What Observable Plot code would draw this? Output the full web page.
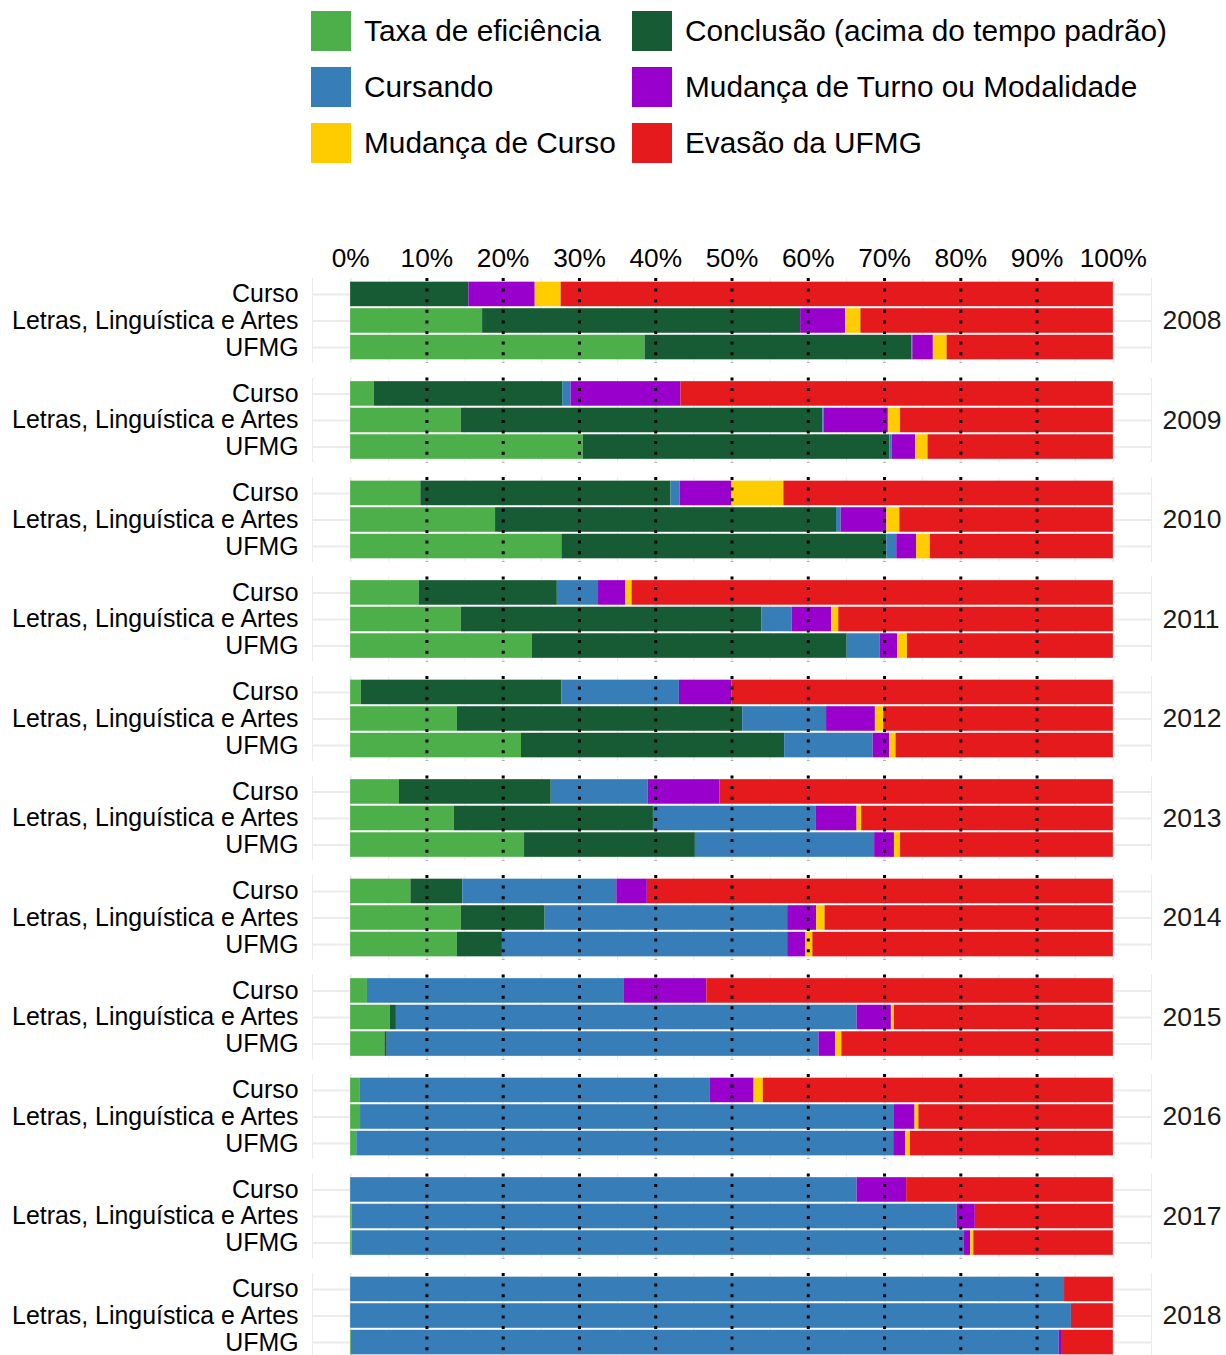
<!DOCTYPE html>
<html><head><meta charset="utf-8">
<script src="https://cdn.jsdelivr.net/npm/d3@7"></script>
<script src="https://cdn.jsdelivr.net/npm/@observablehq/plot@0.6"></script>
<style>
body{margin:0;background:#fff;font-family:"Liberation Sans",Arial,sans-serif;}
#legend{position:absolute;left:311px;top:11px;display:grid;grid-template-columns:321px auto;row-gap:16px;}
.item{display:flex;align-items:center;height:40px;font-size:29.8px;color:#000;white-space:nowrap;}
.sw{width:40px;height:40px;margin-right:13px;flex:none;}
#chart{position:absolute;left:0;top:200px;}
</style></head><body>
<div id="legend"></div><div id="chart"></div>
<script>
const years = [2008, 2009, 2010, 2011, 2012, 2013, 2014, 2015, 2016, 2017, 2018];
const levels = ["Curso", "Letras, Linguística e Artes", "UFMG"];
const categories = ["Taxa de eficiência", "Conclusão (acima do tempo padrão)", "Cursando",
  "Mudança de Turno ou Modalidade", "Mudança de Curso", "Evasão da UFMG"];
const colors = ["#4daf4a", "#165b33", "#377eb8", "#9900cc", "#ffcc00", "#e41a1c"];
const xTicks = [0, 10, 20, 30, 40, 50, 60, 70, 80, 90, 100];

// values per year: [Curso, Letras, UFMG]
const eficiencia = [[0,17.3,38.6],[3.1,14.5,30.5],[9.2,19.0,27.7],[9.0,14.5,23.8],[1.4,14.0,22.4],[6.4,13.6,22.8],[7.9,14.5,14.0],[2.2,5.2,4.5],[1.2,1.3,0.8],[0,0.2,0.2],[0,0,0.1]];
const conclusao = [[15.5,41.7,35.0],[24.7,47.4,40.2],[32.8,44.7,42.6],[18.1,39.4,41.3],[26.3,37.4,34.5],[19.9,26.1,22.4],[6.8,11.0,5.9],[0,0.8,0.3],[0,0,0],[0,0,0],[0,0,0]];
const cursando = [[0,0,0.1],[1.1,0.2,0.3],[1.2,0.6,1.3],[5.4,4.0,4.3],[15.4,11.0,11.6],[12.7,21.3,23.5],[20.2,31.8,37.4],[33.7,60.4,56.6],[45.9,70.0,70.4],[66.4,79.3,80.2],[93.6,94.5,92.8]];
const turno = [[8.7,5.9,2.7],[14.4,8.4,3.1],[6.8,6.0,2.6],[3.6,5.2,2.3],[6.9,6.4,2.2],[9.4,5.4,2.6],[4.0,3.8,2.4],[10.8,4.5,2.2],[5.8,2.7,1.6],[6.5,2.4,0.9],[0,0,0.3]];
const mudancaCurso = [[3.4,2.0,1.8],[0,1.6,1.6],[6.8,1.7,1.8],[0.8,0.9,1.3],[0,1.1,0.8],[0,0.6,0.8],[0,1.1,0.9],[0,0.4,0.8],[1.2,0.5,0.6],[0,0,0.4],[0,0,0]];
const evasao = [[72.4,33.1,21.8],[56.7,27.9,24.3],[43.2,28.0,24.0],[63.1,36.0,27.0],[50.0,30.1,28.5],[51.6,33.0,27.9],[61.1,37.8,39.4],[53.3,28.7,35.6],[45.9,25.5,26.6],[27.1,18.1,18.3],[6.4,5.5,6.8]];

const series = [eficiencia, conclusao, cursando, turno, mudancaCurso, evasao];

const data = [];
years.forEach((year, i) => levels.forEach((level, j) => series.forEach((s, k) => {
  if (s[i][j] > 0) data.push({year, level, category: categories[k], value: s[i][j]});
})));
const gridY = [];
years.forEach(year => levels.forEach(level => gridY.push({year, level})));
const gridX = d3.range(-5, 106, 5);
const dotted = [10, 20, 30, 40, 50, 60, 70, 80, 90];

// legend
const leg = document.getElementById("legend");
categories.forEach((c, k) => {
  const it = document.createElement("div");
  it.className = "item";
  it.innerHTML = `<span class="sw" style="background:${colors[k]}"></span><span>${c}</span>`;
  leg.appendChild(it);
});

const chart = Plot.plot({
  width: 1226, height: 1170,
  marginTop: 78, marginLeft: 312, marginRight: 75, marginBottom: 12,
  style: {fontFamily: "'Liberation Sans', Arial, sans-serif", background: "white"},
  x: {domain: [-5, 105]},
  y: {domain: levels, paddingInner: 0, paddingOuter: 0.1, round: false},
  fy: {domain: years, paddingInner: 0.146, paddingOuter: 0, round: false},
  color: {domain: categories, range: colors},
  marks: [
    Plot.ruleX(gridX, {x: d => d, stroke: "#ebebeb", strokeWidth: d => (d % 10 === 0 ? 2 : 1)}),
    Plot.ruleY(gridY, {y: "level", fy: "year", x1: -5, x2: 105, stroke: "#ebebeb", strokeWidth: 2}),
    Plot.barX(data, Plot.stackX({x: "value", y: "level", fy: "year", fill: "category", insetTop: 1, insetBottom: 1})),
    Plot.ruleX(dotted, {x: d => d, stroke: "black", strokeWidth: 3, strokeDasharray: "3,7.6"}),
    Plot.axisX({anchor: "top", ticks: xTicks, tickFormat: d => d + "%", tickSize: 0, tickPadding: 12, fontSize: 26.3, fill: "black", label: null}),
    Plot.axisY({anchor: "left", tickSize: 0, tickPadding: 14, fontSize: 24.9, fill: "black", label: null}),
    Plot.axisFy({anchor: "right", tickSize: 0, tickPadding: 11, fontSize: 26.5, fill: "#1a1a1a", label: null, tickFormat: d => String(d)})
  ]
});
document.getElementById("chart").appendChild(chart);
</script></body></html>
